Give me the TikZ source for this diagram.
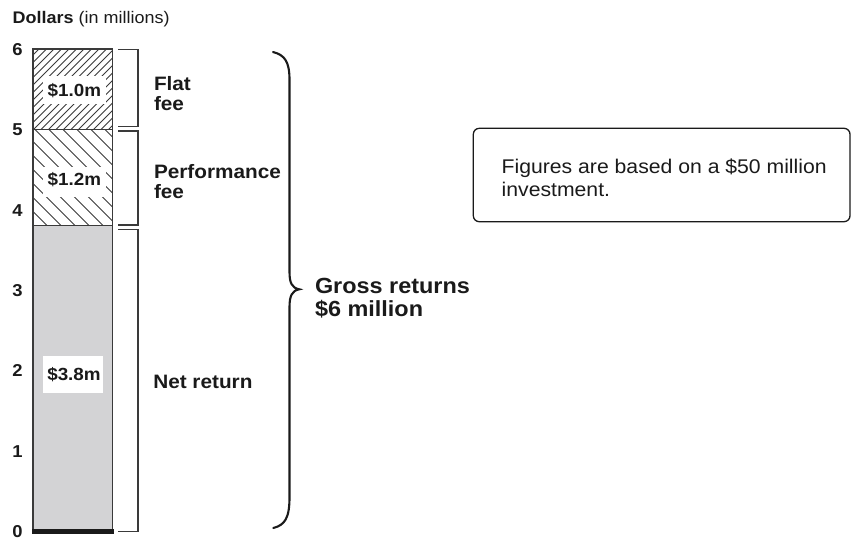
\documentclass[tikz,border=0pt]{standalone}
\usepackage{fontspec}
\setmainfont{Liberation Sans}[FakeStretch=1.07]
\definecolor{ink}{HTML}{1A1A1A}
\definecolor{barfill}{HTML}{D3D3D5}
\definecolor{edge}{HTML}{3A3A3A}
\tikzset{
  tick/.style={anchor=base, font=\fontsize{17.2}{20}\bfseries\selectfont},
  lab/.style={anchor=base west, font=\fontsize{19.4}{22}\bfseries\selectfont},
  val/.style={anchor=base west, font=\fontsize{17.6}{20}\bfseries\selectfont},
  gross/.style={anchor=base west, font=\fontsize{21.9}{24}\bfseries\selectfont},
  note/.style={anchor=base west, font=\fontsize{19.8}{22}\selectfont},
  hatch/.style={draw=edge, line width=1pt},
  bracket/.style={draw=edge, line width=1.2pt},
  brace/.style={draw=ink, line width=2.1pt, line cap=round},
}
\begin{document}
\begin{tikzpicture}[x=1pt,y=-1pt, every node/.style={inner sep=0pt, outer sep=0pt, text=ink}]
\useasboundingbox (0,0) rectangle (856,547);
% axis title
\node[anchor=base west, font=\fontsize{16.8}{19}\selectfont] (ytitle) at (12.7,23.3) {\textbf{Dollars} (in millions)};
% tick labels
\node[tick] (t6) at (17.5,55.2) {6};
\node[tick] (t5) at (17.5,135.6) {5};
\node[tick] (t4) at (17.5,216) {4};
\node[tick] (t3) at (17.5,296.4) {3};
\node[tick] (t2) at (17.5,376.8) {2};
\node[tick] (t1) at (17.5,457.2) {1};
\node[tick] (t0) at (17.5,537.6) {0};
% net return fill
\fill[barfill] (33,225.5) rectangle (112.5,531);
% flat fee hatch
\begin{scope}
  \clip (33,49) rectangle (112.5,129.5);
  \foreach \i in {0,...,23} \draw[hatch] (33-82+\i*7.5,129.5) -- ++(82,-82);
\end{scope}
% performance fee hatch
\begin{scope}
  \clip (33,129.5) rectangle (112.5,225.5);
  \foreach \i in {0,...,14} \draw[hatch] (33-96+\i*14,129.5) -- ++(96,96);
\end{scope}
% label backgrounds
\fill[white] (43,76) rectangle (106,104);
\fill[white] (43,167) rectangle (106,197);
\fill[white] (42.7,356) rectangle (103.3,392.7);
% bar outline
\draw[edge, line width=1.3pt] (33,49) rectangle (112.5,531);
\draw[edge, line width=1.1pt] (33,129.5) -- (112.5,129.5);
\draw[edge, line width=1.1pt] (33,225.5) -- (112.5,225.5);
\fill[ink] (32,529) rectangle (114,533.5);
% values
\node[val] (v1) at (47.7,96) {\$1.0m};
\node[val] (v2) at (47.7,185) {\$1.2m};
\node[val] (v3) at (47.3,380.7) {\$3.8m};
% brackets
\draw[bracket] (118,49.5) -- (138,49.5) -- (138,126.5) -- (118,126.5);
\draw[bracket] (118,131) -- (138,131) -- (138,225) -- (118,225);
\draw[bracket] (118,229.5) -- (138,229.5) -- (138,531.5) -- (118,531.5);
% bracket labels
\node[lab] (flat1) at (154,90.7) {Flat};
\node[lab] (flat2) at (154,110.7) {fee};
\node[lab] (perf1) at (154,178.3) {Performance};
\node[lab] (perf2) at (154,198.3) {fee};
\node[lab] (net) at (153.3,388.3) {Net return};
% big brace
\draw[brace] (273,52) .. controls (285,55) and (289.5,62) .. (289.5,80)
  -- (289.5,272) .. controls (289.5,283) and (292,288) .. (299.3,289.3)
  .. controls (292,290.5) and (289.5,296) .. (289.5,307)
  -- (289.5,497) .. controls (289.5,518) and (285,525) .. (273.3,528);
\node[gross] (g1) at (315,293.3) {Gross returns};
\node[gross] (g2) at (315,316.7) {\$6 million};
% note box
\draw[ink, line width=1.3pt, rounded corners=6pt] (473.3,128.3) rectangle (850,221.7);
\node[note] (n1) at (501.7,173.3) {Figures are based on a \$50 million};
\node[note] (n2) at (501.7,196) {investment.};
\end{tikzpicture}
\end{document}
